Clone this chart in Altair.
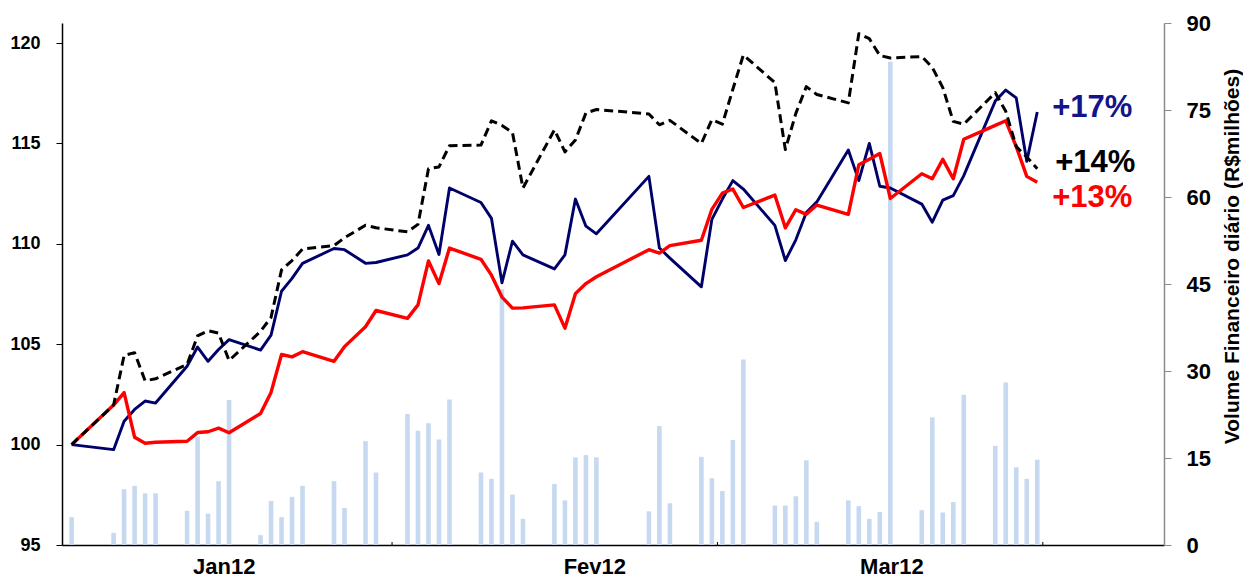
import altair as alt
import pandas as pd

# ---------------- data ----------------
dates = [
    "2011-12-29",
    "2012-01-02", "2012-01-03", "2012-01-04", "2012-01-05", "2012-01-06",
    "2012-01-09", "2012-01-10", "2012-01-11", "2012-01-12", "2012-01-13",
    "2012-01-16", "2012-01-17", "2012-01-18", "2012-01-19", "2012-01-20",
    "2012-01-23", "2012-01-24", "2012-01-26", "2012-01-27",
    "2012-01-30", "2012-01-31", "2012-02-01", "2012-02-02", "2012-02-03",
    "2012-02-06", "2012-02-07", "2012-02-08", "2012-02-09", "2012-02-10",
    "2012-02-13", "2012-02-14", "2012-02-15", "2012-02-16", "2012-02-17",
    "2012-02-22", "2012-02-23", "2012-02-24",
    "2012-02-27", "2012-02-28", "2012-02-29", "2012-03-01", "2012-03-02",
    "2012-03-05", "2012-03-06", "2012-03-07", "2012-03-08", "2012-03-09",
    "2012-03-12", "2012-03-13", "2012-03-14", "2012-03-15", "2012-03-16",
    "2012-03-19", "2012-03-20", "2012-03-21", "2012-03-22", "2012-03-23",
    "2012-03-26", "2012-03-27", "2012-03-28", "2012-03-29", "2012-03-30",
]

volume = [
    4.8,
    2.1, 9.6, 10.2, 8.9, 8.9,
    5.9, 18.7, 5.4, 11.0, 25.0,
    1.7, 7.6, 4.8, 8.3, 10.2,
    11.0, 6.4, 17.9, 12.5,
    22.6, 19.7, 21.0, 18.2, 25.1,
    12.5, 11.4, 44.1, 8.7, 4.5,
    10.5, 7.7, 15.1, 15.5, 15.1,
    5.8, 20.5, 7.2,
    15.2, 11.5, 9.3, 18.1, 32.0,
    6.8, 6.8, 8.4, 14.6, 4.0,
    7.7, 6.7, 4.5, 5.7, 83.3,
    6.0, 22.0, 5.6, 7.4, 25.9,
    17.1, 28.0, 13.4, 11.4, 14.7,
]

serie_azul = [
    100.0,
    99.75, 101.16, 101.75, 102.17, 102.07,
    103.9, 104.86, 104.15, 104.74, 105.23,
    104.71, 105.45, 107.64, 108.28, 109.03,
    109.77, 109.71, 109.03, 109.07,
    109.45, 109.79, 110.92, 109.47, 112.78,
    112.06, 111.27, 108.06, 110.13, 109.45,
    108.75, 109.45, 112.23, 110.88, 110.5,
    113.36, 109.79, 109.29,
    107.86, 111.22, 112.23, 113.15, 112.73,
    110.92, 109.17, 110.2, 111.56, 112.09,
    114.67, 113.15, 115.0, 112.87, 112.78,
    111.98, 111.08, 112.18, 112.4, 113.4,
    117.11, 117.66, 117.27, 114.11, 116.57,
]

serie_vermelha = [
    100.0,
    101.97, 102.59, 100.37, 100.07, 100.12,
    100.17, 100.6, 100.64, 100.82, 100.59,
    101.55, 102.6, 104.49, 104.37, 104.63,
    104.15, 104.88, 105.87, 106.68,
    106.29, 106.96, 109.15, 108.02, 109.79,
    109.23, 108.44, 107.35, 106.8, 106.81,
    106.96, 105.8, 107.52, 108.02, 108.36,
    109.71, 109.54, 109.91,
    110.18, 111.72, 112.53, 112.73, 111.81,
    112.43, 110.8, 111.7, 111.47, 111.93,
    111.47, 113.94, 114.21, 114.5, 112.26,
    113.49, 113.24, 114.21, 113.24, 115.21,
    115.9, 116.13, 114.84, 113.36, 113.07,
]

serie_preta = [
    100.0,
    101.97, 104.44, 104.58, 103.18, 103.28,
    103.99, 105.42, 105.67, 105.55, 104.19,
    105.64, 106.34, 108.7, 109.17, 109.74,
    109.91, 110.3, 110.93, 110.8,
    110.6, 110.97, 113.74, 113.83, 114.89,
    114.92, 116.13, 115.9, 115.55, 112.78,
    115.68, 114.58, 115.17, 116.52, 116.69,
    116.47, 115.93, 116.15,
    115.0, 116.18, 115.96, 117.7, 119.41,
    118.03, 114.7, 116.5, 117.83, 117.44,
    117.02, 120.47, 120.22, 119.38, 119.26,
    119.33, 118.79, 117.78, 116.1, 115.96,
    117.53, 116.6, 114.84, 114.33, 113.74,
]

month_labels = ["Jan12", "Fev12", "Mar12"]
month_label_days = [14.5, 49.8, 78.1]
month_tick_days = [30.53, 61.53, 92.53]
end_labels = ["+17%", "+14%", "+13%"]
left_ticks = [95, 100, 105, 110, 115, 120]
right_ticks = [0, 15, 30, 45, 60, 75, 90]
right_title = "Volume Financeiro diário (R$milhões)"

# ---------------- frames ----------------
base_date = pd.Timestamp(dates[0])
day = [(pd.Timestamp(s) - base_date).days for s in dates]

vol_df = pd.DataFrame({"d": day, "vol": volume})
azul_df = pd.DataFrame({"d": day, "v": serie_azul})
verm_df = pd.DataFrame({"d": day, "v": serie_vermelha})
preta_df = pd.DataFrame({"d": day, "v": serie_preta})
tick_df = pd.DataFrame({"d": month_tick_days, "y0": [95] * 3, "y1": [95.15] * 3})
ends_df = pd.DataFrame({
    "d": [day[-1]] * 3,
    "v": [serie_azul[-1], serie_preta[-1], serie_vermelha[-1]],
    "label": end_labels,
})

FONT = "Liberation Sans"
NAVY = "#00006B"
RED = "#FF0000"

label_expr = (
    f"datum.value < {month_tick_days[0]} ? '{month_labels[0]}' : "
    f"datum.value < {month_tick_days[1]} ? '{month_labels[1]}' : '{month_labels[2]}'"
)

xscale = alt.Scale(domain=[-0.44, 103.6], nice=False, zero=False)
xaxis = alt.Axis(
    values=month_label_days, labelExpr=label_expr, ticks=False, grid=False,
    domainColor="black", domainWidth=1.5, labelFont=FONT, labelFontSize=22,
    labelFontWeight="bold", labelColor="black", labelPadding=11, title=None,
    labelAlign="center",
)
X = alt.X("d:Q", scale=xscale, axis=xaxis)

lscale = alt.Scale(domain=[95, 121], nice=False, zero=False)
laxis = alt.Axis(
    values=left_ticks, grid=False, domainColor="black", domainWidth=1.5,
    tickColor="black", tickSize=6, labelPadding=16, labelFont=FONT,
    labelFontSize=18, labelFontWeight="bold", labelColor="black", title=None,
)

rscale = alt.Scale(domain=[0, 90], nice=False, zero=True)
raxis = alt.Axis(
    orient="right", values=right_ticks, grid=False, domainColor="#8C8C8C",
    domainWidth=1.5, tickColor="#8C8C8C", tickSize=7, labelPadding=15,
    labelFont=FONT, labelFontSize=22, labelFontWeight="bold", labelColor="black",
    title=right_title, titleFont=FONT, titleFontSize=21, titleFontWeight="bold",
    titleColor="black", titleAngle=270, titleX=68, titleY=233,
    titleAlign="center", titleBaseline="middle",
)

bars = alt.Chart(vol_df).mark_bar(size=4.6, color="#C6D9F1").encode(
    x=X, y=alt.Y("vol:Q", scale=rscale, axis=raxis)
)

Yl = alt.Y("v:Q", scale=lscale, axis=laxis)

navy_line = alt.Chart(azul_df).mark_line(color=NAVY, strokeWidth=2.9, strokeJoin="round").encode(x=X, y=Yl)
red_line = alt.Chart(verm_df).mark_line(color=RED, strokeWidth=3.4, strokeJoin="round").encode(x=X, y=Yl)
black_line = alt.Chart(preta_df).mark_line(
    color="black", strokeWidth=3.0, strokeDash=[9, 5], strokeJoin="round"
).encode(x=X, y=Yl)

xticks = alt.Chart(tick_df).mark_rule(color="black", strokeWidth=1).encode(
    x=X, y=alt.Y("y0:Q", scale=lscale, axis=laxis), y2="y1:Q"
)

def end_text(idx, color, dx, dy):
    return alt.Chart(ends_df).transform_filter(
        alt.datum.label == end_labels[idx]
    ).mark_text(
        font=FONT, fontSize=31, fontWeight="bold", color=color,
        align="left", baseline="middle", dx=dx, dy=dy,
    ).encode(x=X, y=Yl, text="label:N")

texts = end_text(0, "#14148A", 15, -4) + end_text(1, "black", 18, -6) + end_text(2, RED, 15, 16)

left_layer = alt.layer(xticks, navy_line, red_line, black_line, texts)

chart = alt.layer(bars, left_layer).resolve_scale(y="independent").properties(
    width=1102, height=522,
    autosize=alt.AutoSizeParams(type="none"),
    padding={"left": 54, "top": 15, "right": 79, "bottom": 33},
    background="white",
).configure_view(stroke=None)

chart.save("out.html", embed_options={"renderer": "svg", "actions": False})
